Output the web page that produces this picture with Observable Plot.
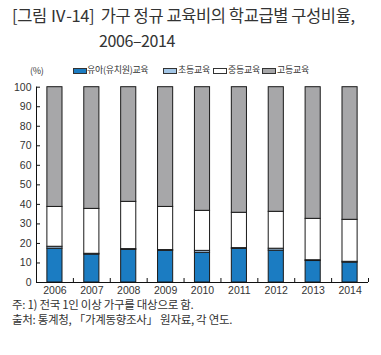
<!DOCTYPE html>
<html><head><meta charset="utf-8">
<script src="https://cdn.jsdelivr.net/npm/d3@7"></script>
<script src="https://cdn.jsdelivr.net/npm/@observablehq/plot@0.6"></script>
<style>
body{margin:0;background:#fff;width:381px;height:355px;overflow:hidden;font-family:"Noto Sans CJK KR","Noto Sans",sans-serif;color:#333}
#wrap{position:relative;width:381px;height:355px}
.t{position:absolute;white-space:nowrap}
#title1{left:12px;top:3px;font-size:16.5px;letter-spacing:-0.4px}
#title2{left:99px;top:28px;font-size:16px;letter-spacing:-0.4px}
#legend{position:absolute;left:0;top:63px;width:381px;height:14px;font-size:9px;letter-spacing:-0.3px}
.sw{position:absolute;top:5px;width:12px;height:4px;border:1px solid #333;box-sizing:content-box}
#chart{position:absolute;left:0;top:78px}
#note1{left:12px;top:298px;font-size:11.5px;line-height:13px;letter-spacing:-0.3px}
#note2{left:12px;top:313px;font-size:11.5px;line-height:13px;letter-spacing:-0.3px}
</style></head>
<body><div id="wrap">
<div class="t" id="title1">[그림 Ⅳ-14]&nbsp; 가구 정규 교육비의 학교급별 구성비율,</div>
<div class="t" id="title2">2006–2014</div>
<div id="legend"></div>
<div id="chart"></div>
<div class="t" id="note1">주: 1) 전국 1인 이상 가구를 대상으로 함.</div>
<div class="t" id="note2">출처: 통계청, 「가계동향조사」 원자료, 각 연도.</div>
</div>
<script>
const years = [2006, 2007, 2008, 2009, 2010, 2011, 2012, 2013, 2014];
const series = ["유아(유치원)교육", "초등교육", "중등교육", "고등교육"];
const colors = ["#1b7cc2", "#a3c6e6", "#ffffff", "#a7a7a9"];
const preschool = [17.3, 14.3, 16.7, 16.2, 15.2, 17.2, 16.3, 11.0, 10.2];
const elementary = [1.0, 0.4, 0.4, 0.4, 1.0, 0.4, 1.0, 0.4, 0.4];
const secondary = [20.4, 23.0, 24.2, 22.1, 20.5, 18.1, 18.9, 21.2, 21.5];
const higher = [61.3, 62.3, 58.7, 61.3, 63.3, 64.3, 63.8, 67.4, 67.9];
const yTicks = [0, 10, 20, 30, 40, 50, 60, 70, 80, 90, 100];

const valuesBySeries = [preschool, elementary, secondary, higher];
const rows = [];
years.forEach((yr, i) => {
  let acc = 0;
  series.forEach((s, j) => {
    const v = valuesBySeries[j][i];
    rows.push({year: yr, series: s, y1: acc, y2: acc + v});
    acc += v;
  });
});
const half = 0.205;
const boundaries = years.map(y => y + 0.5);

// legend
const leg = document.getElementById("legend");
const legPos = [[73, 87], [163, 178], [213, 228], [262, 277]];
const pct = document.createElement("div");
pct.className = "t"; pct.style.left = "30px"; pct.style.top = "1px";
pct.textContent = "(%)"; leg.appendChild(pct);
series.forEach((s, j) => {
  const sw = document.createElement("div");
  sw.className = "sw"; sw.style.left = legPos[j][0] + "px"; sw.style.background = colors[j];
  leg.appendChild(sw);
  const tx = document.createElement("div");
  tx.className = "t"; tx.style.left = legPos[j][1] + "px"; tx.style.top = "0px";
  tx.textContent = s; leg.appendChild(tx);
});

const chart = Plot.plot({
  width: 381,
  height: 220,
  marginTop: 8.7,
  marginBottom: 16,
  marginLeft: 36,
  marginRight: 13,
  style: {fontFamily: "'Liberation Sans',sans-serif", fontSize: "10.5px", color: "#333", background: "transparent"},
  x: {type: "linear", domain: [2005.5, 2014.5]},
  y: {type: "linear", domain: [0, 100]},
  color: {domain: series, range: colors},
  marks: [
    Plot.rect(rows, {x1: d => d.year - half, x2: d => d.year + half, y1: "y1", y2: "y2", fill: "series", stroke: "#1a1a1a", strokeWidth: 1}),
    Plot.ruleY([0], {stroke: "#111"}),
    Plot.ruleX([2005.5], {stroke: "#111"}),
    Plot.axisY({ticks: yTicks, tickSize: -4, tickPadding: 9, label: null, tickFormat: d => String(d), stroke: "#111"}),
    Plot.axisX({ticks: years, tickSize: 0, tickPadding: 4, label: null, tickFormat: d => String(d)}),
    Plot.axisX({ticks: boundaries, tickSize: -4, tickFormat: () => "", label: null, stroke: "#111"})
  ]
});
document.getElementById("chart").appendChild(chart);
</script>
</body></html>
